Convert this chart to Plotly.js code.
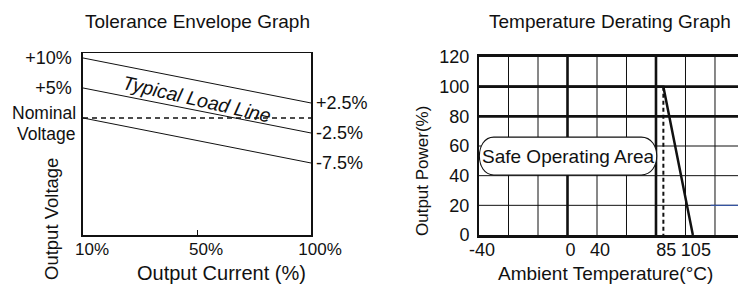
<!DOCTYPE html>
<html><head><meta charset="utf-8">
<script src="https://cdn.plot.ly/plotly-3.0.1.min.js"></script>
<style>html,body{margin:0;padding:0;background:#fff;} #chart{width:738px;height:285px;}</style>
</head><body><div id="chart"></div>
<script>
// ---- Tolerance Envelope Graph data ----
const loadCategories = ['10%', '50%', '100%'];
const loadPoints = ['10%', '100%'];
const upperLimit = [10, 2.5];
const typicalLoad = [5, -2.5];
const lowerLimit = [0, -7.5];
const nominalLine = [0, 0];
const leftTickVals = [10, 5];
const leftTickText = ['+10%', '+5%'];
const endTickVals = [2.5, -2.5, -7.5];
const endTickText = ['+2.5%', '-2.5%', '-7.5%'];

// ---- Temperature Derating Graph data ----
const deratingTemp = [-40, 85, 105];
const deratingPower = [100, 100, 0];
const kneeTemp = [85, 85];
const kneePower = [100, 0];
const blueTemp = [117, 136];
const bluePower = [20, 20];
const tempTickVals = [-40, 20, 40, 85, 105];
const tempTickText = ['-40', '0', '40', '85', '105'];
const powerTicks = [0, 20, 40, 60, 80, 100, 120];
const gridTemps = [-20, 0, 20, 40, 60, 80, 100, 120];
const thickTemps = [20, 80];
const gridPower = [20, 40, 60, 80, 100];
const thickPower = [80, 100];

const W = 738, H = 285;
const px = v => v / W;
const py = v => 1 - v / H;
const FONT = 'Liberation Sans, Arial, Helvetica, sans-serif';
const INK = '#111';
const TMIN = -40, TMAX = 135.6;

const traces = [
  {x: loadPoints, y: upperLimit, xaxis: 'x', yaxis: 'y3', mode: 'lines', line: {color: INK, width: 1}, hoverinfo: 'skip'},
  {x: loadPoints, y: typicalLoad, xaxis: 'x', yaxis: 'y', mode: 'lines', line: {color: INK, width: 1}, hoverinfo: 'skip'},
  {x: loadPoints, y: lowerLimit, xaxis: 'x', yaxis: 'y', mode: 'lines', line: {color: INK, width: 1}, hoverinfo: 'skip'},
  {x: loadPoints, y: nominalLine, xaxis: 'x', yaxis: 'y', mode: 'lines', line: {color: INK, width: 1.6, dash: '5px,4px'}, hoverinfo: 'skip'},
  {x: deratingTemp, y: deratingPower, xaxis: 'x2', yaxis: 'y2', mode: 'lines', line: {color: INK, width: 2.5}, hoverinfo: 'skip'},
  {x: kneeTemp, y: kneePower, xaxis: 'x2', yaxis: 'y2', mode: 'lines', line: {color: INK, width: 2, dash: '4px,3px'}, hoverinfo: 'skip'},
  {x: blueTemp, y: bluePower, xaxis: 'x2', yaxis: 'y2', mode: 'lines', line: {color: '#3557a8', width: 1.2}, hoverinfo: 'skip'}
];

const shapes = [];
gridTemps.forEach(t => shapes.push({type: 'line', xref: 'x2', yref: 'y2', x0: t, x1: t, y0: 0, y1: 120, layer: 'below',
  line: {color: INK, width: thickTemps.includes(t) ? 2.6 : 1}}));
gridPower.forEach(p => shapes.push({type: 'line', xref: 'x2', yref: 'y2', x0: TMIN, x1: TMAX, y0: p, y1: p, layer: 'below',
  line: {color: INK, width: thickPower.includes(p) ? 2.6 : 1}}));
// rounded label box for "Safe Operating Area"
shapes.push({type: 'path', xref: 'x2', yref: 'y2', layer: 'above',
  path: 'M -30,66 L 70,66 C 84,66 84,40.5 70,40.5 L -30,40.5 C -43,40.5 -43,66 -30,66 Z',
  fillcolor: '#fff', line: {color: INK, width: 1.1}});

const ann = (text, x, y, opts = {}) => Object.assign({text, x, y, xref: 'paper', yref: 'paper', showarrow: false,
  xanchor: 'center', yanchor: 'middle', font: {family: FONT, size: 18, color: INK}}, opts);

const annotations = [
  ann('Tolerance Envelope Graph', px(197), py(21), {font: {family: FONT, size: 19, color: INK}}),
  ann('Temperature Derating Graph', px(610), py(21), {font: {family: FONT, size: 19, color: INK}}),
  ann('Output Current (%)', px(221), py(273), {font: {family: FONT, size: 20, color: INK}}),
  ann('Ambient Temperature(°C)', px(605), py(273), {font: {family: FONT, size: 19, color: INK}}),
  ann('Output Voltage', px(52), py(219), {textangle: -90, font: {family: FONT, size: 18.5, color: INK}}),
  ann('Output Power(%)', px(422), py(171), {textangle: -90, font: {family: FONT, size: 17, color: INK}}),
  ann('Nominal', px(78), py(113), {xanchor: 'right', font: {family: FONT, size: 17.5, color: INK}}),
  ann('Voltage', px(77), py(134), {xanchor: 'right', font: {family: FONT, size: 17.5, color: INK}}),
  {text: '<i>Typical Load Line</i>', x: 1, y: 3.1, xref: 'x', yref: 'y', showarrow: false, textangle: 13,
    font: {family: FONT, size: 19.5, color: INK}},
  {text: 'Safe Operating Area', x: 20.5, y: 52.8, xref: 'x2', yref: 'y2', showarrow: false,
    font: {family: FONT, size: 19, color: INK}}
];

const layout = {
  width: W, height: H,
  margin: {l: 0, r: 0, t: 0, b: 0},
  paper_bgcolor: '#fff', plot_bgcolor: 'rgba(0,0,0,0)',
  showlegend: false,
  font: {family: FONT, color: INK},
  xaxis: {domain: [px(83), px(311)], anchor: 'y', type: 'category', categoryorder: 'array', categoryarray: loadCategories,
    range: [0, 2], showgrid: false, zeroline: false, showline: true, mirror: true, linecolor: INK, linewidth: 1.5,
    ticks: 'inside', ticklen: 5, tickcolor: INK, tickfont: {size: 17}, ticklabelshift: 9, ticklabelstandoff: -2, fixedrange: true},
  yaxis: {domain: [py(235), py(53)], anchor: 'x', range: [-19.5, 10.83], tickmode: 'array', tickvals: leftTickVals,
    ticktext: leftTickText, showgrid: false, zeroline: false, showline: true, mirror: true, linecolor: INK, linewidth: 1.6,
    ticks: '', tickfont: {size: 18}, ticklabelstandoff: 6, fixedrange: true},
  yaxis3: {overlaying: 'y', anchor: 'x', side: 'right', range: [-19.5, 10.83], tickmode: 'array', tickvals: endTickVals,
    ticktext: endTickText, showgrid: false, zeroline: false, showline: false, ticks: '', tickfont: {size: 18},
    ticklabelstandoff: 4, fixedrange: true},
  xaxis2: {domain: [px(479), 1], anchor: 'y2', range: [TMIN, TMAX], tickmode: 'array', tickvals: tempTickVals,
    ticktext: tempTickText, showgrid: false, zeroline: false, showline: true, mirror: true, linecolor: INK, linewidth: 2.6,
    ticks: '', tickfont: {size: 18}, ticklabelshift: 3, ticklabelstandoff: -3, fixedrange: true},
  yaxis2: {domain: [py(235), py(57)], anchor: 'x2', range: [0, 120], tickmode: 'array', tickvals: powerTicks,
    showgrid: false, zeroline: false, showline: true, linecolor: INK, linewidth: 2, ticks: '', tickfont: {size: 18},
    ticklabelstandoff: 4, fixedrange: true},
  shapes, annotations
};

Plotly.newPlot('chart', traces, layout, {displayModeBar: false, staticPlot: true});
</script>
</body></html>
